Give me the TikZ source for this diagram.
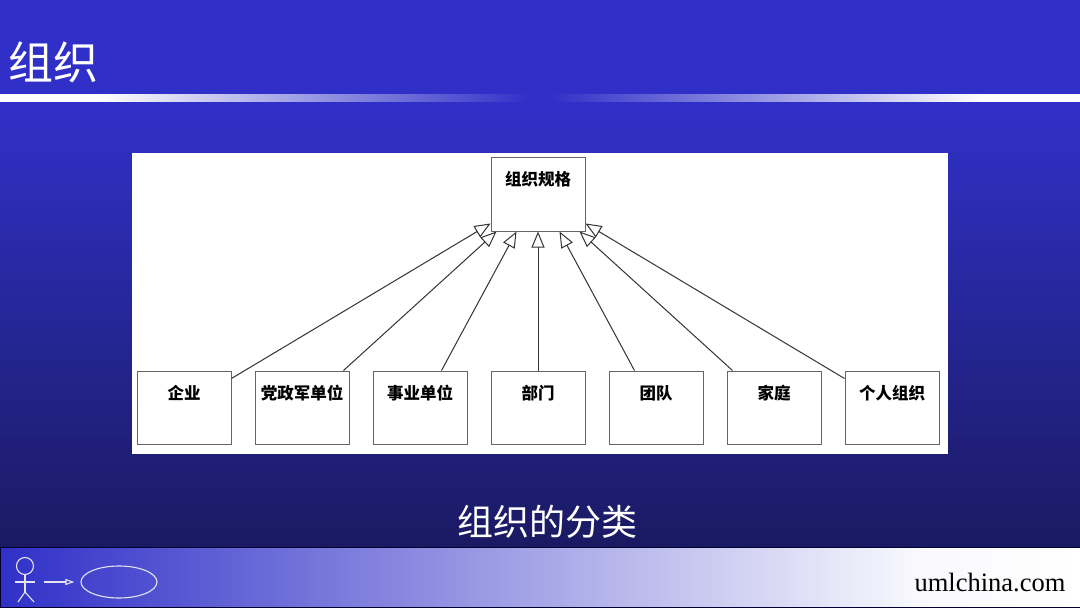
\documentclass[tikz,border=0pt]{standalone}
\usepackage{xcolor}
\usepackage{fontspec}
\usepackage{tikz}
\usetikzlibrary{arrows.meta,shapes.geometric}
\setmainfont{Liberation Serif}
\newfontfamily\cjk{Noto Sans CJK SC}
\definecolor{slideblue}{HTML}{3030C8}
\definecolor{slidedark}{HTML}{1A1A62}
\definecolor{footline}{HTML}{E4E4F4}
% tikz stretches the middle 50bp of a shading over the path
\pgfdeclarehorizontalshading{ruleshade}{100bp}{
  color(0bp)=(white); color(29.5bp)=(white); color(49.5bp)=(slideblue);
  color(50.5bp)=(slideblue); color(70.5bp)=(white); color(100bp)=(white)}
\pgfdeclarehorizontalshading{footshade}{100bp}{
  color(0bp)=(slideblue); color(25bp)=(slideblue); color(67.5bp)=(white!97!slideblue); color(75bp)=(white); color(100bp)=(white)}
\tikzset{
  umlbox/.style = {draw=black!60, fill=white, line width=1pt, inner sep=0pt,
    minimum width=94pt, minimum height=73pt, text height=28pt, text depth=45pt,
    font=\cjk\bfseries\fontsize{16.5}{16.5}\selectfont},
  inherit/.style = {draw=black!80, line width=1pt,
    -{Triangle[open, fill=white, length=16pt, width=13pt]}},
  footdraw/.style = {draw=footline, line width=1.1pt}
}
\begin{document}
\begin{tikzpicture}[x=1pt, y=-1pt]
  \useasboundingbox (0,0) rectangle (1080,608);

  % background
  \fill[slideblue] (0,0) rectangle (1080,110);
  \shade[top color=slideblue, bottom color=slidedark] (0,110) rectangle (1080,548);
  \fill[slidedark] (0,547) rectangle (1080,608);

  % rule under the title
  \shade[shading=ruleshade] (0,94) rectangle (1080,101);
  \node[text=white, inner sep=0pt, font=\cjk\fontsize{45}{45}\selectfont] (title) at (53.5,62) {组织};

  % white panel
  \fill[white] (132,153) rectangle (948,454);

  \node[umlbox, minimum height=74pt, text depth=46pt] (spec) at (538,194) {组织规格};
  \node[umlbox] (qiye) at (184,407.5) {企业};
  \node[umlbox] (dang) at (302,407.5) {党政军单位};
  \node[umlbox] (shiye) at (420,407.5) {事业单位};
  \node[umlbox] (bumen) at (538,407.5) {部门};
  \node[umlbox] (tuandui) at (656,407.5) {团队};
  \node[umlbox] (jiating) at (774,407.5) {家庭};
  \node[umlbox] (geren) at (892,407.5) {个人组织};

  % generalisations
  \draw[inherit] ([yshift=-8pt]qiye.north east) -- ([yshift=8pt]spec.south west);
  \draw[inherit] ([xshift=-6pt]dang.north east) -- ([xshift=6pt]spec.south west);
  \draw[inherit] ([xshift=-26pt]shiye.north east) -- ([xshift=26pt]spec.south west);
  \draw[inherit] (bumen.north) -- (spec.south);
  \draw[inherit] ([xshift=26pt]tuandui.north west) -- ([xshift=-26pt]spec.south east);
  \draw[inherit] ([xshift=6pt]jiating.north west) -- ([xshift=-6pt]spec.south east);
  \draw[inherit] ([yshift=-8pt]geren.north west) -- ([yshift=8pt]spec.south east);

  \node[text=white, inner sep=0pt, font=\cjk\fontsize{36}{36}\selectfont] (caption) at (547,522) {组织的分类};

  % footer
  \shade[shading=footshade] (0.5,547) rectangle (1080,607.5);
  \draw[black!80!blue, line width=0.8pt] (1080,547) -- (0.5,547) -- (0.5,607.5) -- (1080,607.5);
  \node[inner sep=0pt, font=\fontsize{26.5}{26.5}\selectfont] (site) at (990,582) {umlchina.com};

  % actor and use case
  \node[footdraw, circle, minimum size=17pt, inner sep=0pt] (head) at (25,566) {};
  \coordinate (hip) at (25,592);
  \coordinate (handl) at (15,582);
  \coordinate (handr) at (35,582);
  \coordinate (footl) at (18,602);
  \coordinate (footr) at (34,602);
  \coordinate (arrowstart) at (44,582);
  \node[footdraw, ellipse, minimum width=76pt, minimum height=32pt, inner sep=0pt] (usecase) at (119,582) {};
  \draw[footdraw] (head) -- (hip);
  \draw[footdraw] (handl) -- (handr);
  \draw[footdraw] (footl) -- (hip) -- (footr);
  \draw[footdraw, -{Triangle[open, length=9pt, width=6pt]}, shorten >=6pt] (arrowstart) -- (usecase.west);
\end{tikzpicture}
\end{document}
